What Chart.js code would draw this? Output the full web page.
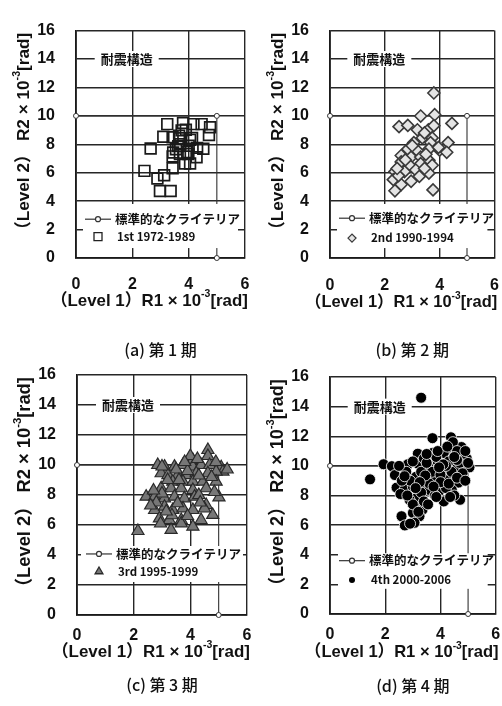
<!DOCTYPE html>
<html>
<head>
<meta charset="utf-8">
<script src="https://cdn.jsdelivr.net/npm/chart.js@4.4.1/dist/chart.umd.min.js"></script>
<style>
  body { margin: 0; background: #fff; width: 502px; height: 706px; position: relative; overflow: hidden; }
  canvas { position: absolute; }
</style>
</head>
<body>
<canvas id="c1"></canvas>
<canvas id="c2"></canvas>
<canvas id="c3"></canvas>
<canvas id="c4"></canvas>
<script>
// axis ticks
const xTicks = [0, 2, 4, 6];
const yTicks = [0, 2, 4, 6, 8, 10, 12, 14, 16];

// 標準的なクライテリア (R1, R2)
const criteriaR1 = [0, 5, 5];
const criteriaR2 = [10, 10, 0];

// period data [R1, R2]
const period1 = [
  [3.24, 9.42], [3.8, 9.5], [4.17, 9.42], [4.46, 9.42], [4.76, 9.2], [4.72, 8.65],
  [3.1, 8.53], [3.43, 8.49], [3.75, 8.98], [3.9, 9.02], [3.66, 8.6], [3.69, 8.42],
  [4.05, 8.31], [4.12, 8.45], [2.65, 7.7], [3.63, 7.87], [3.45, 7.42], [3.43, 7.15],
  [3.69, 7.31], [3.99, 7.31], [4.28, 7.09], [4.52, 7.69], [4.3, 7.75], [3.87, 6.65],
  [4.05, 6.65], [3.95, 7.45], [3.43, 6.31], [2.43, 6.13], [3.13, 5.82], [2.89, 5.6],
  [2.98, 4.71], [3.36, 4.71], [3.7, 8.0], [3.55, 7.65], [4.0, 7.9]
];
const period2 = [
  [3.79, 11.61], [3.31, 9.99], [3.82, 10.08], [4.45, 9.47], [2.52, 9.24], [2.84, 9.33],
  [3.19, 9.02], [3.59, 9.02], [3.79, 9.31], [3.37, 8.45], [3.73, 8.45], [3.06, 8.12],
  [3.67, 8.12], [4.31, 8.12], [2.84, 7.66], [3.19, 7.55], [3.61, 7.66], [4.0, 7.59],
  [4.26, 7.44], [3.96, 7.78], [2.6, 7.21], [2.96, 7.1], [3.31, 7.1], [3.61, 6.87],
  [2.6, 6.76], [2.9, 6.53], [3.31, 6.64], [3.73, 6.53], [2.37, 6.08], [2.72, 6.08],
  [3.13, 6.19], [3.61, 5.97], [2.31, 5.51], [2.6, 5.17], [2.96, 5.4], [3.26, 5.74],
  [2.37, 4.73], [3.76, 4.79], [3.45, 8.8], [3.0, 7.9], [2.75, 6.9], [3.45, 6.3],
  [2.5, 5.8], [3.5, 7.3], [2.45, 6.3]
];
const period3 = [
  [4.62, 11.0], [4.62, 10.6], [2.85, 10.0], [3.09, 9.89], [3.44, 9.89], [3.74, 10.0],
  [4.09, 10.33], [4.09, 9.89], [4.38, 10.0], [4.68, 10.0], [5.09, 9.85], [5.15, 9.56],
  [4.91, 9.56], [4.62, 9.45], [2.97, 9.45], [3.21, 9.33], [3.56, 9.33], [3.85, 9.33],
  [4.21, 9.45], [3.38, 8.89], [3.74, 8.89], [4.09, 8.89], [4.44, 8.89], [4.91, 8.89],
  [2.97, 8.45], [3.32, 8.45], [3.68, 8.45], [4.09, 8.33], [4.56, 8.45], [2.44, 7.89],
  [2.74, 7.89], [3.09, 7.78], [3.44, 7.89], [3.79, 7.78], [4.15, 7.89], [5.01, 7.84],
  [2.74, 7.0], [3.09, 7.22], [3.38, 7.0], [3.74, 7.11], [4.09, 7.0], [4.56, 7.33],
  [4.79, 6.67], [2.91, 6.44], [3.26, 6.33], [3.68, 6.33], [4.38, 6.33], [3.32, 5.67],
  [3.68, 6.11], [4.09, 5.89], [2.15, 5.6], [2.95, 6.1], [3.5, 9.7], [3.9, 9.6],
  [3.0, 8.1], [3.55, 7.45], [4.3, 8.0], [4.0, 10.6], [4.3, 9.3], [3.2, 9.0],
  [2.8, 7.5], [3.9, 6.6], [4.5, 7.1], [3.35, 6.65], [4.75, 9.2], [4.9, 10.2],
  [5.3, 9.7], [4.25, 10.4], [3.6, 9.0], [2.6, 7.3], [2.7, 8.3], [3.15, 6.9],
  [4.35, 7.5], [4.85, 8.2], [3.8, 10.2], [3.0, 9.9]
];
const period4 = [
  [3.3, 14.6], [3.71, 11.87], [4.38, 11.93], [4.41, 11.49], [4.76, 11.27], [4.39, 11.09],
  [3.18, 10.82], [3.71, 10.87], [4.12, 10.87], [4.53, 10.71], [4.88, 10.49], [1.94, 10.11],
  [2.24, 9.98], [2.82, 10.11], [3.18, 10.16], [3.56, 9.93], [4.06, 9.71], [4.59, 9.82],
  [4.94, 9.98], [1.45, 9.09], [2.35, 9.38], [2.76, 9.6], [3.12, 9.27], [3.47, 9.04],
  [3.82, 9.16], [4.24, 9.04], [4.65, 8.87], [2.41, 8.53], [2.71, 8.42], [3.0, 8.6],
  [3.29, 8.71], [3.59, 8.38], [3.94, 8.27], [4.41, 8.38], [4.71, 7.71], [4.12, 7.6],
  [3.12, 7.82], [2.88, 7.71], [3.14, 7.16], [3.35, 7.04], [3.0, 6.82], [3.24, 6.6],
  [2.59, 6.6], [2.71, 5.98], [3.06, 6.16], [4.85, 10.2], [4.95, 10.5], [5.05, 9.9],
  [4.3, 10.3], [3.9, 10.3], [3.4, 10.5], [3.3, 9.6], [2.9, 9.0], [3.7, 9.6],
  [4.0, 9.4], [4.4, 9.6], [4.7, 10.2], [3.6, 8.8], [4.2, 8.5], [4.5, 8.0],
  [3.3, 8.2], [3.0, 7.4], [3.4, 7.6], [3.8, 8.0], [4.0, 8.9], [2.6, 9.0],
  [3.5, 10.2], [4.6, 10.4], [4.2, 10.0], [4.8, 9.5], [3.2, 6.9], [2.9, 6.1],
  [4.45, 11.6], [4.6, 11.0], [3.85, 10.6], [4.1, 10.1], [3.45, 9.35], [2.55, 8.1],
  [3.5, 10.8], [3.9, 11.0], [4.25, 11.3], [4.9, 11.0], [3.0, 10.3], [2.5, 10.0],
  [2.7, 9.3], [3.25, 8.9], [3.75, 8.6], [4.3, 8.8], [4.6, 9.2], [4.9, 9.0],
  [3.55, 7.4], [3.85, 7.9], [4.35, 7.9], [2.8, 8.0], [3.1, 8.5], [3.95, 9.9],
  [4.5, 10.6], [5.0, 10.2]
];

const periodLabels = ['1st 1972-1989', '2nd 1990-1994', '3rd 1995-1999', '4th 2000-2006'];
const panelTitles = ['(a) 第 1 期', '(b) 第 2 期', '(c) 第 3 期', '(d) 第 4 期'];
const criteriaLabel = '標準的なクライテリア';
const zoneLabel = '耐震構造';
// axis titles: [text, superscript, text]
const xTitle = ['（Level 1）R1 × 10', '-3', '[rad]'];
const yTitle = ['（Level 2） R2 × 10', '-3', '[rad]'];

const W = 262, H = 366, X_AXIS_H = 60;
const latin = '"Liberation Sans", "Noto Sans CJK JP", sans-serif';
const cjk = '"Noto Sans CJK JP", sans-serif';

// canvas placement and plot-area box (canvas pixels) per panel
const panels = [
  { id: 'c1', left: 0, top: 0, area: { l: 76, t: 18, r: 245, b: 258 }, tickPad: 17, xTitleDy: 43, titleY: 350, data: period1,
    mark: { style: 'rect', r: 7.6, bg: 'rgba(255,255,255,0)', fg: '#1a1a1a', bw: 1.7, lr: 5 },
    legend: { y1: 2.73, y2: 1.5, top: 3.8, bottom: 0.7, inset: 7 } },
  { id: 'c2', left: 240, top: 0, area: { l: 90, t: 22, r: 259, b: 258 }, tickPad: 18, xTitleDy: 44, titleY: 350, data: period2,
    mark: { style: 'rectRot', r: 6, bg: '#e4e4e4', fg: '#3a3a3a', bw: 1.6, lr: 4 },
    legend: { y1: 2.8, y2: 1.4, top: 3.8, bottom: 0.7, inset: 7 } },
  { id: 'c3', left: 0, top: 340, area: { l: 77, t: 35, r: 247, b: 275 }, tickPad: 11, xTitleDy: 37, titleY: 345, data: period3,
    mark: { style: 'triangle', r: 7, bg: '#777', fg: '#2a2a2a', bw: 1.2, lr: 4.5 },
    legend: { y1: 4.07, y2: 2.9, top: 4.6, bottom: 2.2, inset: 4 } },
  { id: 'c4', left: 240, top: 340, area: { l: 90, t: 37, r: 259, b: 274 }, tickPad: 11, xTitleDy: 38, titleY: 346, data: period4,
    mark: { style: 'circle', r: 5.5, bg: '#000', fg: '#fff', bw: 0.8, lr: 3 },
    legend: { y1: 3.6, y2: 2.3, top: 4.1, bottom: 1.7, inset: 8 } }
];

function drawMarker(ctx, m, x, y, r) {
  ctx.beginPath();
  if (m.style === 'rect') {
    const s = r * 0.8;
    ctx.rect(x - s, y - s, 2 * s, 2 * s);
  } else if (m.style === 'rectRot') {
    ctx.moveTo(x - r, y); ctx.lineTo(x, y - r); ctx.lineTo(x + r, y); ctx.lineTo(x, y + r); ctx.closePath();
  } else if (m.style === 'triangle') {
    ctx.moveTo(x, y - r); ctx.lineTo(x + r * 0.87, y + r * 0.5); ctx.lineTo(x - r * 0.87, y + r * 0.5); ctx.closePath();
  } else {
    ctx.arc(x, y, r, 0, Math.PI * 2);
  }
  if (m.style === 'circle') {
    ctx.fillStyle = '#000'; ctx.fill();
  } else {
    ctx.fillStyle = m.style === 'rect' ? '#fff' : m.bg; ctx.fill();
    ctx.strokeStyle = m.style === 'rect' ? '#222' : m.fg; ctx.lineWidth = 1.3; ctx.stroke();
  }
}

// title with a raised exponent, fitted so its visible length is `len`, starting at x=0
function drawTitle(ctx, parts, len) {
  const base = 18;
  const widthAt = size => {
    let w = 0;
    parts.forEach((t, k) => {
      ctx.font = 'bold ' + (k === 1 ? size * 0.62 : size) + 'px ' + latin;
      w += ctx.measureText(t).width;
    });
    return w;
  };
  ctx.font = 'bold ' + base + 'px ' + latin;
  const skip0 = Math.max(0, -ctx.measureText(parts[0]).actualBoundingBoxLeft);
  const size = base * len / (widthAt(base) - skip0);
  const skip = skip0 * size / base;
  let cx = -skip;
  parts.forEach((t, k) => {
    const fs = k === 1 ? size * 0.62 : size;
    ctx.font = 'bold ' + fs + 'px ' + latin;
    ctx.fillText(t, cx, k === 1 ? -size * 0.38 : 0);
    cx += ctx.measureText(t).width;
  });
}

const decor = {
  id: 'decor',
  afterDatasetsDraw(chart, args, o) {
    const { ctx, chartArea: a, scales: { x, y } } = chart;
    ctx.save();
    // zone label with white backing over the grid
    ctx.font = 'bold 13px ' + cjk;
    const lx = x.getPixelForValue(1.8), ly = y.getPixelForValue(14);
    const lw = ctx.measureText(zoneLabel).width;
    ctx.fillStyle = '#fff';
    ctx.fillRect(lx - lw / 2 - 6, ly - 8, lw + 12, 16);
    ctx.fillStyle = '#111';
    ctx.textAlign = 'center';
    ctx.textBaseline = 'middle';
    ctx.fillText(zoneLabel, lx, ly);

    // legend box
    const lg = o.legend;
    const bt = y.getPixelForValue(lg.top), bb = y.getPixelForValue(lg.bottom);
    ctx.fillStyle = '#fff';
    ctx.fillRect(a.left + lg.inset, bt, a.right - a.left - 2 * lg.inset, bb - bt);
    const y1 = y.getPixelForValue(lg.y1), y2 = y.getPixelForValue(lg.y2);
    ctx.strokeStyle = '#333';
    ctx.lineWidth = 1.2;
    ctx.beginPath();
    ctx.moveTo(a.left + 9, y1); ctx.lineTo(a.left + 35, y1);
    ctx.stroke();
    ctx.beginPath();
    ctx.arc(a.left + 22, y1, 2.5, 0, Math.PI * 2);
    ctx.fillStyle = '#fff'; ctx.fill(); ctx.stroke();
    drawMarker(ctx, o.mark, a.left + 22, y2, o.mark.lr);
    ctx.fillStyle = '#111';
    ctx.textAlign = 'left';
    ctx.font = 'bold 12.5px ' + cjk;
    ctx.fillText(criteriaLabel, a.left + 39, y1);
    ctx.font = 'bold 11.5px ' + cjk;
    ctx.fillText(o.series, a.left + 41, y2);
    ctx.restore();
  },
  afterDraw(chart, args, o) {
    const { ctx, chartArea: a } = chart;
    ctx.save();
    ctx.fillStyle = '#111';
    ctx.textBaseline = 'middle';
    // x axis title
    ctx.textAlign = 'left';
    ctx.save();
    ctx.translate(a.left - 15, a.bottom + o.xTitleDy);
    drawTitle(ctx, xTitle, a.right - a.left + 18);
    ctx.restore();
    // y axis title
    ctx.save();
    ctx.translate(a.left - 52, a.bottom - 30);
    ctx.rotate(-Math.PI / 2);
    drawTitle(ctx, yTitle, a.bottom - a.top - 32);
    ctx.restore();
    // panel caption
    ctx.font = '500 16px ' + cjk;
    ctx.textAlign = 'center';
    ctx.fillText(o.title, (a.left + a.right) / 2, o.titleY);
    ctx.restore();
  }
};

panels.forEach((p, i) => {
  const cv = document.getElementById(p.id);
  cv.width = W; cv.height = H;
  cv.style.left = p.left + 'px';
  cv.style.top = p.top + 'px';
  cv.style.width = W + 'px';
  cv.style.height = H + 'px';
  const A = p.area;
  // the gap between plot and x tick labels is made with an invisible tick mark,
  // because ticks.padding also widens the side padding of the plot area
  const xGrid = { color: '#262626', lineWidth: 1.4, drawTicks: true, tickLength: p.tickPad, tickColor: 'rgba(0,0,0,0)' };
  const yGrid = { color: '#262626', lineWidth: 1.4, drawTicks: false };
  const border = { color: '#1a1a1a', width: 1.8 };
  const tickFont = { family: latin, size: 16, weight: 'bold' };
  new Chart(cv, {
    type: 'scatter',
    data: {
      datasets: [
        {
          type: 'line',
          data: criteriaR1.map((v, k) => ({ x: v, y: criteriaR2[k] })),
          borderColor: '#333', borderWidth: 1.1, fill: false, tension: 0,
          pointRadius: 2.5, pointBackgroundColor: '#fff', pointBorderColor: '#333', pointBorderWidth: 1,
          clip: false, order: 2
        },
        {
          data: p.data.map(d => ({ x: d[0], y: d[1] })),
          pointStyle: p.mark.style, pointRadius: p.mark.r,
          pointBackgroundColor: p.mark.bg, pointBorderColor: p.mark.fg, pointBorderWidth: p.mark.bw,
          clip: false, order: 1
        }
      ]
    },
    options: {
      responsive: false,
      animation: false,
      events: [],
      layout: { padding: { left: 0, top: A.t, right: W - A.r, bottom: H - A.b - X_AXIS_H } },
      plugins: {
        legend: { display: false },
        tooltip: { enabled: false },
        decor: { legend: p.legend, mark: p.mark, series: periodLabels[i], title: panelTitles[i],
                 titleY: p.titleY, xTitleDy: p.xTitleDy }
      },
      scales: {
        x: {
          type: 'linear', min: xTicks[0], max: xTicks[xTicks.length - 1],
          afterBuildTicks: s => { s.ticks = xTicks.map(v => ({ value: v })); },
          ticks: { font: tickFont, color: '#111', padding: 0, maxRotation: 0 },
          grid: xGrid, border: border,
          afterFit: s => { s.height = X_AXIS_H; }
        },
        y: {
          type: 'linear', min: yTicks[0], max: yTicks[yTicks.length - 1],
          afterBuildTicks: s => { s.ticks = yTicks.map(v => ({ value: v })); },
          ticks: { font: tickFont, color: '#111', padding: 21 },
          grid: yGrid, border: border,
          afterFit: s => { s.width = A.l; }
        }
      }
    },
    plugins: [decor]
  });
});
</script>
</body>
</html>
